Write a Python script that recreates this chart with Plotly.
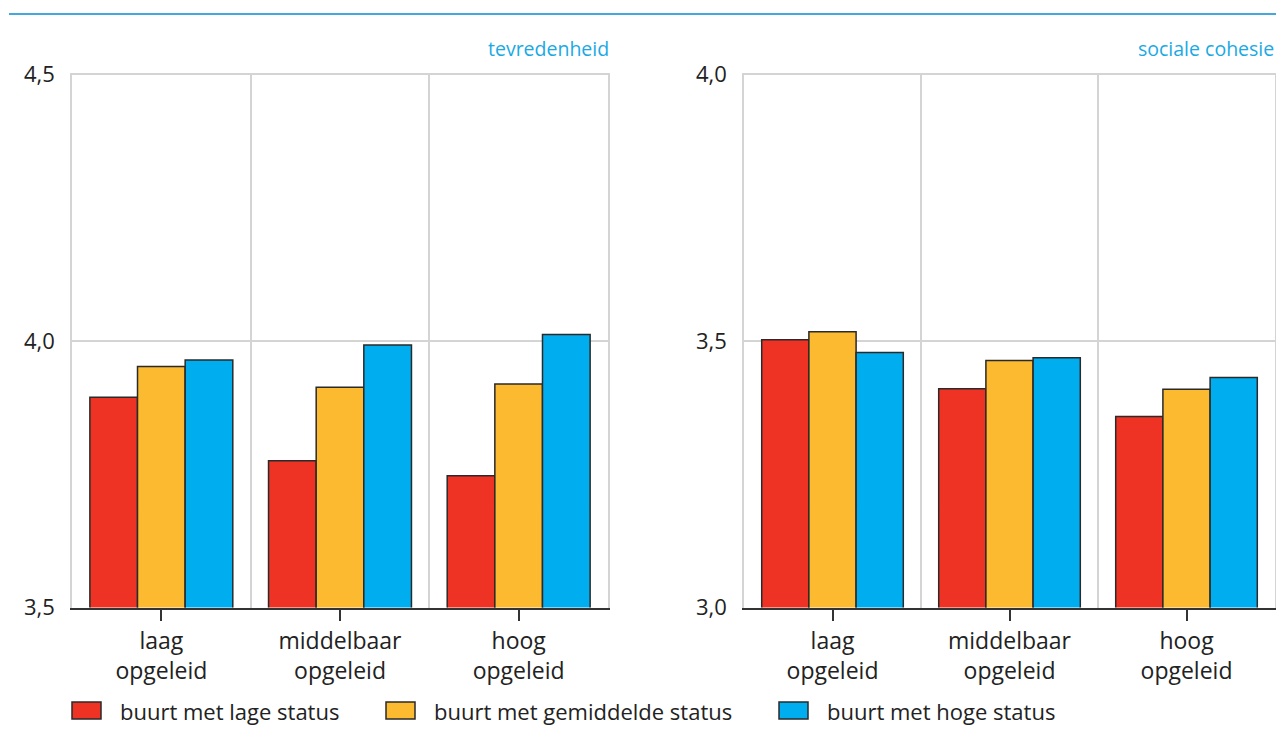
import plotly.graph_objects as go

categories = ["laag<br>opgeleid", "middelbaar<br>opgeleid", "hoog<br>opgeleid"]
series_names = ["buurt met lage status", "buurt met gemiddelde status", "buurt met hoge status"]
series_colors = ["#EE3224", "#FBBA30", "#00ADEE"]

# panel 1: tevredenheid
tevredenheid_lage = [3.894, 3.775, 3.747]
tevredenheid_gemiddelde = [3.952, 3.913, 3.919]
tevredenheid_hoge = [3.964, 3.992, 4.012]

# panel 2: sociale cohesie
cohesie_lage = [3.502, 3.410, 3.358]
cohesie_gemiddelde = [3.517, 3.463, 3.409]
cohesie_hoge = [3.478, 3.468, 3.431]

panel_titles = ["tevredenheid", "sociale cohesie"]
left_ticks = [3.5, 4.0, 4.5]
left_ticktext = ["3,5", "4,0", "4,5"]
right_ticks = [3.0, 3.5, 4.0]
right_ticktext = ["3,0", "3,5", "4,0"]

FONT = "Open Sans"
TXT = "#222222"
GRID = "#D4D4D4"
OFF = 8                      # default page body margin
FW, FH = 1284 - 2 * OFF, 734 - 2 * OFF


def px(x):
    return (x - OFF) / FW


def py(y):
    return 1 - (y - OFF) / FH


fig = go.Figure()
xpos = list(range(len(categories)))

panels = [
    ("x", "y", [tevredenheid_lage, tevredenheid_gemiddelde, tevredenheid_hoge]),
    ("x2", "y2", [cohesie_lage, cohesie_gemiddelde, cohesie_hoge]),
]
for xa, ya, vals in panels:
    for name, color, v in zip(series_names, series_colors, vals):
        fig.add_trace(go.Bar(
            x=xpos, y=v, name=name, xaxis=xa, yaxis=ya,
            marker=dict(color=color, line=dict(color="#2a2a2a", width=1.5)),
            showlegend=False, hoverinfo="skip"))

ydom = [py(607.5), py(72.5)]
xdom1 = [px(72), px(608)]
xdom2 = [px(744), px(1275)]


def xaxis(dom, anchor):
    return dict(
        domain=dom, anchor=anchor, range=[-0.5, 2.5], automargin=False,
        tickvals=xpos, ticktext=categories,
        ticks="outside", ticklen=12, tickwidth=1.5, tickcolor="#333333",
        showgrid=False, zeroline=False,
        showline=True, linecolor="#333333", linewidth=1.5,
        tickfont=dict(family=FONT, size=23, color=TXT),
        minor=dict(tickvals=[0.5, 1.5], showgrid=True,
                   gridcolor=GRID, gridwidth=1.5, ticks=""),
        fixedrange=True,
    )


def yaxis(rng, tv, tt, anchor):
    return dict(
        domain=ydom, anchor=anchor, range=[rng[0], rng[1] + 0.003], automargin=False,
        tickvals=tv, ticktext=tt, ticks="", ticklabelstandoff=11,
        showgrid=True, gridcolor=GRID, gridwidth=1.5,
        zeroline=False, showline=True, mirror=True, linecolor=GRID, linewidth=1.5,
        tickfont=dict(family=FONT, size=22, color=TXT),
        fixedrange=True,
    )


fig.update_layout(
    width=FW, height=FH,
    margin=dict(l=0, r=0, t=0, b=0, autoexpand=False),
    paper_bgcolor="white", plot_bgcolor="white",
    barmode="group", bargap=0.2, bargroupgap=0,
    xaxis=xaxis(xdom1, "y"),
    yaxis=yaxis([3.5, 4.5], left_ticks, left_ticktext, "x"),
    xaxis2=xaxis(xdom2, "y2"),
    yaxis2=yaxis([3.0, 4.0], right_ticks, right_ticktext, "x2"),
    showlegend=False,
)

shapes = [dict(type="line", xref="paper", yref="paper",
               x0=px(9), x1=1, y0=py(14), y1=py(14),
               line=dict(color="#45A8DC", width=2))]
annotations = []
for title, right_edge in zip(panel_titles, [611, 1276]):
    annotations.append(dict(text=title, xref="paper", yref="paper",
                            x=px(right_edge), y=py(48), xanchor="right", yanchor="middle",
                            showarrow=False, font=dict(family=FONT, size=19.5, color="#1AA9E4")))

legend_x = [72, 386, 779]
for name, color, lx in zip(series_names, series_colors, legend_x):
    shapes.append(dict(type="rect", xref="paper", yref="paper",
                       x0=px(lx), x1=px(lx + 29), y0=py(719), y1=py(702),
                       fillcolor=color, line=dict(color="#2a2a2a", width=1.5)))
    annotations.append(dict(text=name, xref="paper", yref="paper",
                            x=px(lx + 46), y=py(710.5), xanchor="left", yanchor="middle",
                            showarrow=False, font=dict(family=FONT, size=22, color=TXT)))

fig.update_layout(shapes=shapes, annotations=annotations)
fig.write_html("out.html")
